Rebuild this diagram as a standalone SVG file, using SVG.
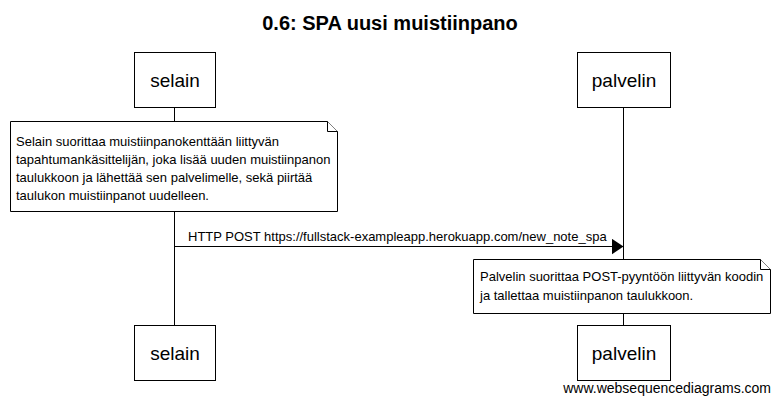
<svg xmlns="http://www.w3.org/2000/svg" width="780" height="404" viewBox="0 0 780 404">
<style>
text{font-family:"Liberation Sans",Arial,sans-serif;fill:#000}
.box{fill:#fff;stroke:#000;stroke-width:1}
.life{stroke:#000;stroke-width:1;fill:none}
.lbl{font-size:19px;text-anchor:middle}
.nt{font-size:13px}
.note{fill:#fff;stroke:#000;stroke-width:1}
</style>
<defs>
<marker id="ah" markerWidth="12" markerHeight="16" refX="12" refY="8" orient="auto" markerUnits="userSpaceOnUse">
<path d="M0,0 L12,8 L0,16 Z" fill="#000"/>
</marker>
</defs>
<rect width="780" height="404" fill="#fff"/>
<text x="390" y="30" font-size="20" font-weight="bold" text-anchor="middle">0.6: SPA uusi muistiinpano</text>
<g id="lifelines">
<line class="life" x1="174.5" y1="108" x2="174.5" y2="325"/>
<line class="life" x1="623.5" y1="108" x2="623.5" y2="325"/>
</g>
<g id="selain">
<rect class="box" x="134.5" y="52.5" width="81" height="55"/>
<text class="lbl" x="175" y="87">selain</text>
<rect class="box" x="134.5" y="325.5" width="81" height="55"/>
<text class="lbl" x="175" y="360">selain</text>
</g>
<g id="palvelin">
<rect class="box" x="577.5" y="52.5" width="93" height="55"/>
<text class="lbl" x="624" y="87">palvelin</text>
<rect class="box" x="577.5" y="325.5" width="93" height="55"/>
<text class="lbl" x="624" y="360">palvelin</text>
</g>
<g id="note1">
<path class="note" d="M10.5,121.5 H327.5 L337.5,131.5 V211.5 H10.5 Z"/>
<path class="note" d="M327.5,121.5 V131.5 H337.5"/>
<text class="nt" x="16" y="146">Selain suorittaa muistiinpanokenttään liittyvän</text>
<text class="nt" x="16" y="164">tapahtumankäsittelijän, joka lisää uuden muistiinpanon</text>
<text class="nt" x="16" y="182">taulukkoon ja lähettää sen palvelimelle, sekä piirtää</text>
<text class="nt" x="16" y="200">taulukon muistiinpanot uudelleen.</text>
</g>
<g id="connectors">
<line x1="174.5" y1="246.5" x2="623.5" y2="246.5" stroke="#000" stroke-width="1" marker-end="url(#ah)"/>
<text class="nt" x="188" y="241">HTTP POST https://fullstack-exampleapp.herokuapp.com/new_note_spa</text>
</g>
<g id="note2">
<path class="note" d="M473.5,259.5 H760.5 L770.5,269.5 V313.5 H473.5 Z"/>
<path class="note" d="M760.5,259.5 V269.5 H770.5"/>
<text class="nt" x="480" y="281">Palvelin suorittaa POST-pyyntöön liittyvän koodin</text>
<text class="nt" x="480" y="300">ja tallettaa muistiinpanon taulukkoon.</text>
</g>
<text x="771" y="393" font-size="14" text-anchor="end">www.websequencediagrams.com</text>
</svg>
